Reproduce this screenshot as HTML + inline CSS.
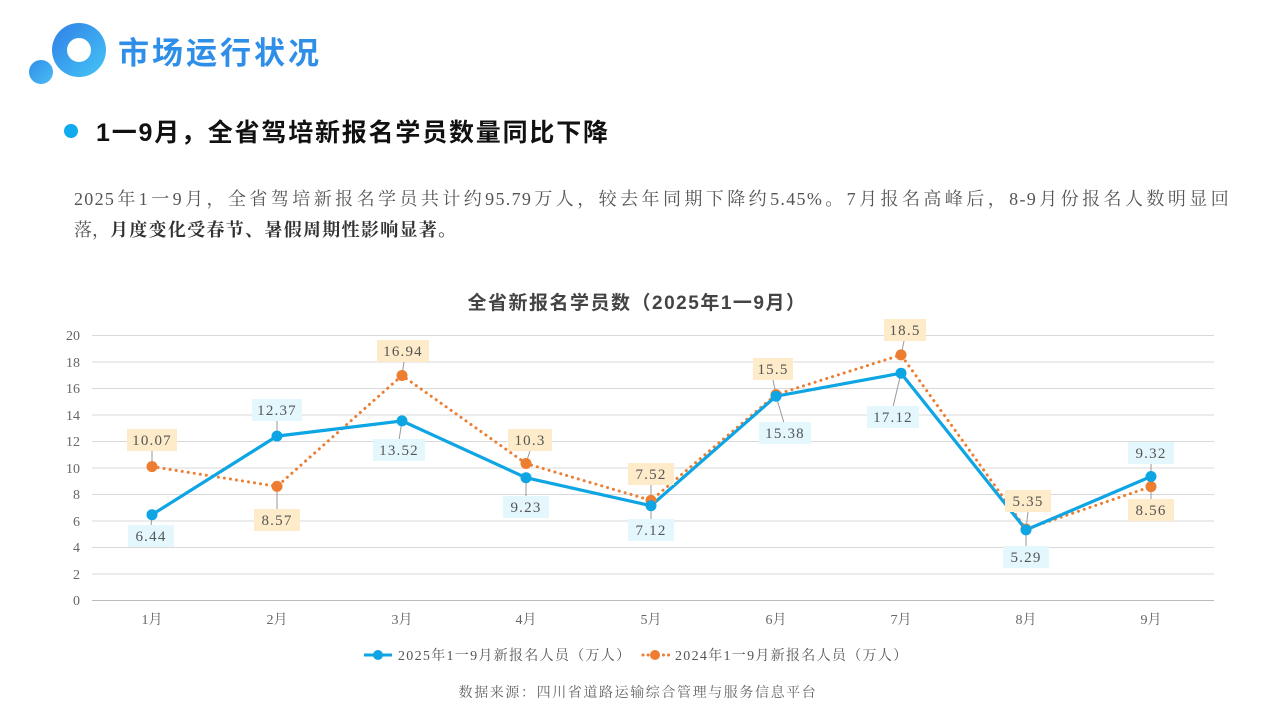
<!DOCTYPE html>
<html><head><meta charset="utf-8"><style>
html,body{margin:0;padding:0;background:#fff;}
body{width:1280px;height:720px;overflow:hidden;position:relative;font-family:"Liberation Sans","Noto Sans CJK SC",sans-serif;}
.t1{position:absolute;left:118px;top:28px;font-size:31px;font-weight:bold;color:#2f8ee8;letter-spacing:3px;}
.t2{position:absolute;left:96px;top:113px;font-size:25px;font-weight:bold;color:#111;letter-spacing:1.8px;}
.dot{position:absolute;left:64px;top:124px;width:14px;height:14px;border-radius:50%;background:#10aaee;}
.p{position:absolute;left:74px;top:184px;width:1156px;font-size:18px;line-height:31px;color:#555;font-family:"Liberation Serif","Noto Serif CJK SC",serif;}
.p .l1{text-align:justify;text-align-last:justify;white-space:nowrap;}
svg text{font-family:"Liberation Serif","Noto Serif CJK SC",serif;}
</style></head><body>
<div style="position:absolute;left:52px;top:23px;width:54px;height:54px;border-radius:50%;background:linear-gradient(135deg,#2f7fe6,#45c6f7);"></div>
<div style="position:absolute;left:67px;top:38px;width:24px;height:24px;border-radius:50%;background:#fff;"></div>
<div style="position:absolute;left:29px;top:60px;width:24px;height:24px;border-radius:50%;background:linear-gradient(135deg,#2f8ee8,#4bbcf5);"></div>
<div class="t1">市场运行状况</div>
<div class="dot"></div>
<div class="t2">1一9月，全省驾培新报名学员数量同比下降</div>
<div class="p"><div class="l1" style="letter-spacing:1.3px">2025年1一9月，全省驾培新报名学员共计约95.79万人，较去年同期下降约5.45%。7月报名高峰后，8-9月份报名人数明显回</div><div>落，<b style="color:#333;letter-spacing:1.3px">月度变化受春节、暑假周期性影响显著。</b></div></div>
<svg width="1280" height="720" style="position:absolute;left:0;top:0">
<text x="637" y="309" text-anchor="middle" font-size="19" font-weight="bold" fill="#444" letter-spacing="1.5" style="font-family:'Liberation Sans','Noto Sans CJK SC',sans-serif">全省新报名学员数（2025年1一9月）</text>
<g stroke="#d9d9d9" stroke-width="1">
<line x1="92" x2="1214" y1="335.5" y2="335.5"/><line x1="92" x2="1214" y1="362" y2="362"/><line x1="92" x2="1214" y1="388.5" y2="388.5"/><line x1="92" x2="1214" y1="415" y2="415"/><line x1="92" x2="1214" y1="441.5" y2="441.5"/><line x1="92" x2="1214" y1="468" y2="468"/><line x1="92" x2="1214" y1="494.5" y2="494.5"/><line x1="92" x2="1214" y1="521" y2="521"/><line x1="92" x2="1214" y1="547.5" y2="547.5"/><line x1="92" x2="1214" y1="574" y2="574"/><line x1="92" x2="1214" y1="600.5" y2="600.5" stroke="#bbb"/>
</g>
<g font-size="14" fill="#666" text-anchor="end">
<text x="80" y="340">20</text><text x="80" y="367">18</text><text x="80" y="393">16</text><text x="80" y="420">14</text><text x="80" y="446">12</text><text x="80" y="473">10</text><text x="80" y="499">8</text><text x="80" y="526">6</text><text x="80" y="552">4</text><text x="80" y="579">2</text><text x="80" y="605">0</text>
</g>
<g font-size="14" fill="#666" text-anchor="middle">
<text x="152" y="624">1月</text><text x="277" y="624">2月</text><text x="402" y="624">3月</text><text x="526" y="624">4月</text><text x="651" y="624">5月</text><text x="776" y="624">6月</text><text x="901" y="624">7月</text><text x="1026" y="624">8月</text><text x="1151" y="624">9月</text>
</g>
<g stroke="#999" stroke-width="1">
<line x1="152" y1="466" x2="152" y2="450"/><line x1="277" y1="486" x2="277" y2="510"/><line x1="402" y1="375" x2="404" y2="362"/><line x1="526" y1="463" x2="530" y2="451"/><line x1="651" y1="500" x2="651" y2="485"/><line x1="776" y1="394" x2="773" y2="380"/><line x1="901" y1="355" x2="904" y2="341"/><line x1="1026" y1="529" x2="1028" y2="512"/><line x1="1151" y1="486" x2="1151" y2="500"/>
<line x1="152" y1="515" x2="151" y2="526"/><line x1="277" y1="436" x2="277" y2="421"/><line x1="402" y1="421" x2="399" y2="440"/><line x1="526" y1="478" x2="526" y2="497"/><line x1="651" y1="506" x2="651" y2="520"/><line x1="776" y1="396" x2="784" y2="423"/><line x1="901" y1="373" x2="893" y2="407"/><line x1="1026" y1="530" x2="1026" y2="547"/><line x1="1151" y1="476" x2="1151" y2="463"/>
</g>
<polyline fill="none" stroke="#ed7d31" stroke-width="3" stroke-dasharray="0.1,6" stroke-linecap="round" points="152,466.6 277,486.4 402,375.5 526,463.5 651,500.4 776,394.6 901,354.9 1026,529.1 1151,486.6"/>
<polyline fill="none" stroke="#0ea5e4" stroke-width="3.2" points="152,514.7 277,436.1 402,420.9 526,477.7 651,505.7 776,396.2 901,373.2 1026,529.9 1151,476.5"/>
<g fill="#ed7d31"><circle cx="152" cy="466.6" r="5.5"/><circle cx="277" cy="486.4" r="5.5"/><circle cx="402" cy="375.5" r="5.5"/><circle cx="526" cy="463.5" r="5.5"/><circle cx="651" cy="500.4" r="5.5"/><circle cx="776" cy="394.6" r="5.5"/><circle cx="901" cy="354.9" r="5.5"/><circle cx="1026" cy="529.1" r="5.5"/><circle cx="1151" cy="486.6" r="5.5"/></g>
<g fill="#0ea5e4"><circle cx="152" cy="514.7" r="5.5"/><circle cx="277" cy="436.1" r="5.5"/><circle cx="402" cy="420.9" r="5.5"/><circle cx="526" cy="477.7" r="5.5"/><circle cx="651" cy="505.7" r="5.5"/><circle cx="776" cy="396.2" r="5.5"/><circle cx="901" cy="373.2" r="5.5"/><circle cx="1026" cy="529.9" r="5.5"/><circle cx="1151" cy="476.5" r="5.5"/></g>
<g fill="#fdebc9">
<rect x="127" y="429" width="50" height="22"/><rect x="254" y="509" width="46" height="22"/><rect x="377" y="340" width="52" height="22"/><rect x="508" y="429" width="44" height="22"/><rect x="628" y="463" width="46" height="22"/><rect x="753" y="358" width="40" height="22"/><rect x="884" y="319" width="42" height="22"/><rect x="1005" y="490" width="46" height="22"/><rect x="1128" y="499" width="46" height="22"/>
</g>
<g fill="#e3f7fd">
<rect x="128" y="525" width="46" height="22"/><rect x="252" y="399" width="50" height="22"/><rect x="373" y="439" width="52" height="22"/><rect x="503" y="496" width="46" height="22"/><rect x="628" y="519" width="46" height="22"/><rect x="759" y="422" width="52" height="22"/><rect x="867" y="406" width="52" height="22"/><rect x="1003" y="546" width="46" height="22"/><rect x="1128" y="442" width="46" height="22"/>
</g>
<g font-size="15" fill="#555" text-anchor="middle" letter-spacing="1.2">
<text x="152" y="445">10.07</text><text x="277" y="525">8.57</text><text x="403" y="356">16.94</text><text x="530" y="445">10.3</text><text x="651" y="479">7.52</text><text x="773" y="374">15.5</text><text x="905" y="335">18.5</text><text x="1028" y="506">5.35</text><text x="1151" y="515">8.56</text>
<text x="151" y="541">6.44</text><text x="277" y="415">12.37</text><text x="399" y="455">13.52</text><text x="526" y="512">9.23</text><text x="651" y="535">7.12</text><text x="785" y="438">15.38</text><text x="893" y="422">17.12</text><text x="1026" y="562">5.29</text><text x="1151" y="458">9.32</text>
</g>
<line x1="364" y1="655" x2="392" y2="655" stroke="#0ea5e4" stroke-width="3"/><circle cx="378" cy="655" r="5" fill="#0ea5e4"/>
<text x="398" y="660" font-size="14" fill="#555" letter-spacing="1.3">2025年1一9月新报名人员（万人）</text>
<line x1="643" y1="655" x2="669" y2="655" stroke="#ed7d31" stroke-width="3" stroke-dasharray="0.1,5" stroke-linecap="round"/><circle cx="655" cy="655" r="5" fill="#ed7d31"/>
<text x="675" y="660" font-size="14" fill="#555" letter-spacing="1.3">2024年1一9月新报名人员（万人）</text>
<text x="638" y="697" font-size="14" fill="#666" text-anchor="middle" letter-spacing="1.6">数据来源：四川省道路运输综合管理与服务信息平台</text>
</svg>
</body></html>
